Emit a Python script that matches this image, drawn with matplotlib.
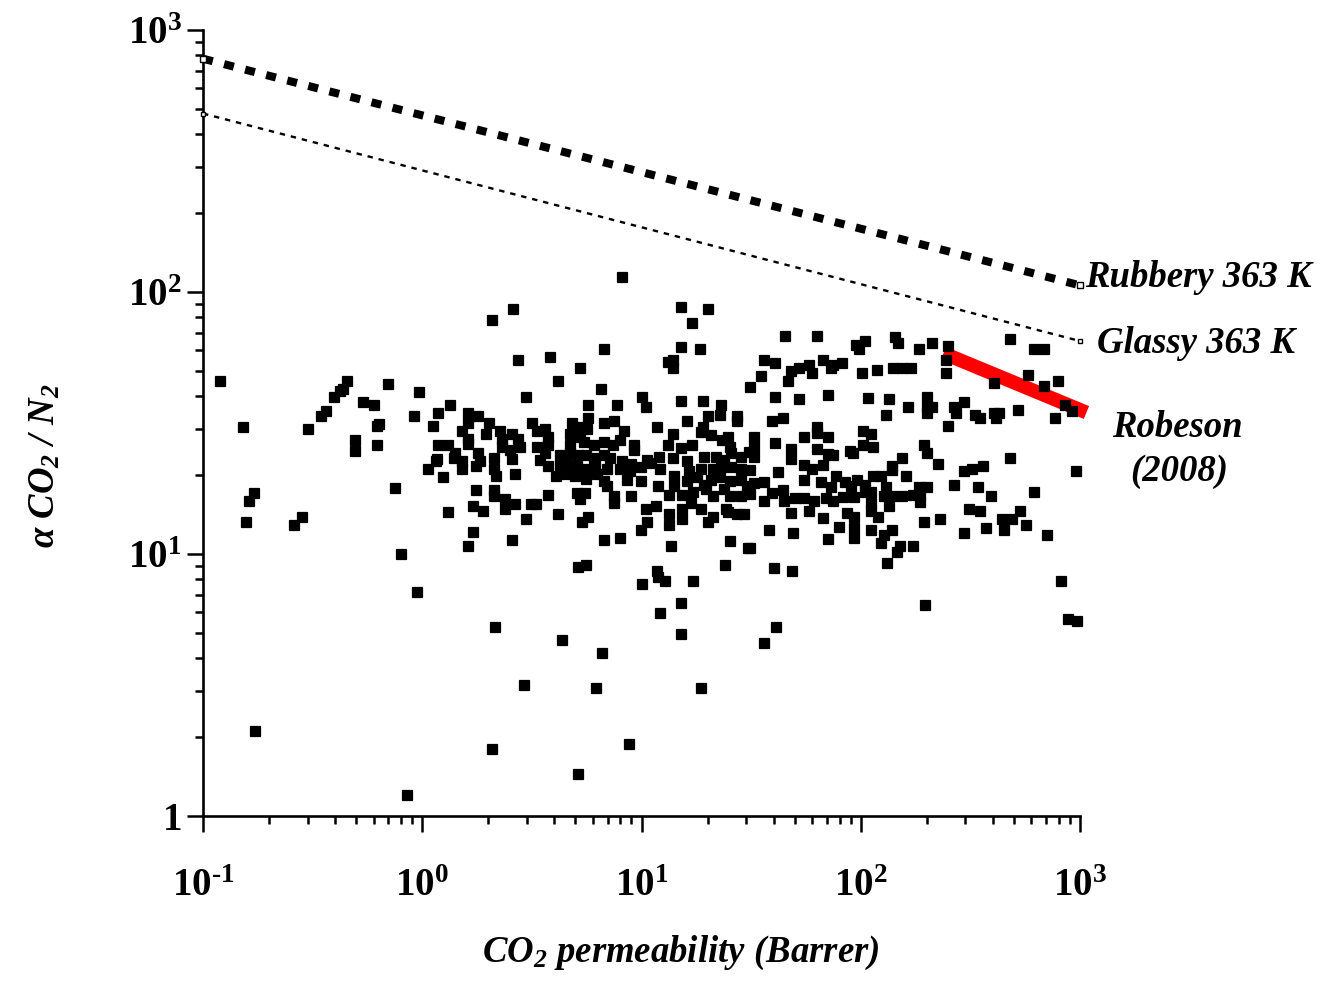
import matplotlib
matplotlib.use("Agg")
import matplotlib.pyplot as plt
from matplotlib.ticker import FixedLocator, LogLocator, NullFormatter, FixedFormatter

plt.rcParams['font.family'] = ['Liberation Serif', 'DejaVu Serif']
plt.rcParams['mathtext.fontset'] = 'custom'
plt.rcParams['mathtext.rm'] = 'Liberation Serif:bold:italic'
plt.rcParams['mathtext.it'] = 'Liberation Serif:bold:italic'
plt.rcParams['mathtext.bf'] = 'Liberation Serif:bold'

# ---------------- data (CO2 permeability [Barrer], CO2/N2 selectivity) -------------
perm_low = [0.119, 0.153, 0.30, 0.345, 0.364, 0.396, 0.422, 0.434, 0.456, 0.539,
            0.604, 0.698, 0.496, 0.496, 0.621, 0.638, 0.621, 0.97, 0.92, 1.185,
            1.12, 1.34, 1.185, 1.31, 1.17, 1.15, 1.06, 1.25, 0.755, 1.31,
            0.171, 0.162, 0.157, 0.283, 0.26, 0.80]
sel_low = [45.7, 30.6, 29.9, 33.7, 35.2, 39.7, 42.0, 42.8, 45.7, 37.9,
           37.0, 44.6, 27.3, 24.8, 30.8, 31.4, 26.0, 41.6, 33.7, 34.5,
           30.7, 37.0, 26.0, 26.0, 23.1, 22.6, 21.1, 19.7, 17.9, 14.5,
           17.1, 16.0, 13.2, 13.9, 12.9, 10.0]

perm_bottom = [5.11, 5.56, 0.95, 11.8, 11.9, 12.8, 10.0, 17.1, 24.0, 40.4,
               48.4, 132, 821, 15.2, 12.1, 196, 882, 970, 2.14, 15.2,
               40.9, 4.33, 36.3, 6.58, 2.92, 6.2, 18.6, 0.172, 2.09, 8.76,
               5.11, 0.853]
sel_bottom = [8.9, 9.06, 7.18, 8.63, 8.2, 7.87, 7.68, 7.87, 9.06, 8.84,
              8.63, 9.21, 7.87, 6.51, 5.93, 6.36, 5.67, 5.54, 5.28, 4.93,
              5.28, 4.70, 4.59, 4.18, 3.16, 3.08, 3.08, 2.11, 1.80, 1.88,
              1.45, 1.2]

perm_top = [8.19, 2.59, 2.07, 15.2, 20.1, 17.0, 6.73, 2.74, 3.84, 5.22,
            4.18, 6.52, 2.98, 10.0, 15.2, 18.5, 13.2, 13.9, 13.9, 15.2,
            19.0, 45.3, 63.4, 36.1, 40.5, 47.9, 46.5, 52.1, 58.3, 59.9,
            67.0, 72.9, 74.9, 81.7, 35.1, 31.4, 40.5, 52.1, 70.8]
sel_top = [114, 85.9, 78.2, 87.8, 85.9, 76.4, 60.5, 55.0, 56.3, 51.3,
           45.6, 42.5, 39.8, 39.8, 61.8, 60.5, 54.0, 55.0, 51.3, 38.2,
           38.2, 68.0, 68.0, 55.0, 53.7, 50.0, 45.6, 51.3, 52.5, 48.9,
           55.0, 51.3, 52.5, 53.7, 47.8, 43.4, 39.8, 39.1, 40.6]

perm_mid_right = [95.1, 98.6, 39.3, 44.0, 63.4, 63.4, 55.1, 70.8, 40.5, 47.9,
                  47.9, 63.4, 70.8, 74.9, 88.9, 92.6, 32.5, 32.5, 32.5, 55.1,
                  59.9, 67.0, 77.1, 41.9, 55.1, 65.6, 72.9, 85.2, 96.5, 90.1,
                  32.5, 36.1, 44.0, 39.3, 44.6, 36.1, 50.3, 55.1, 61.1, 69.3,
                  74.4, 82.8, 93.2, 47.9, 58.3, 67.0, 87.0, 93.3, 38.3, 49.2,
                  70.8, 79.4, 93.3, 93.3, 31.4]
sel_mid_right = [62.6, 60.7, 32.3, 33.1, 30.6, 28.9, 28.0, 28.0, 26.6, 25.1,
                 23.1, 25.1, 24.0, 23.9, 24.7, 24.2, 28.0, 25.6, 23.5, 21.8,
                 21.1, 21.9, 19.8, 20.6, 19.2, 18.8, 18.0, 18.9, 19.2, 18.2,
                 18.6, 18.8, 17.6, 17.1, 15.9, 15.9, 16.3, 16.3, 15.9, 16.3,
                 15.9, 16.5, 16.5, 14.3, 14.6, 13.7, 14.3, 13.8, 12.3, 12.0,
                 11.4, 12.7, 12.6, 11.5, 10.5]

perm_mid = [10.5, 23.0, 22.7, 27.3, 27.3, 20.1, 16.1, 19.0, 18.6, 20.7,
            11.8, 13.9, 23.3, 24.8, 13.2, 15.2, 17.0, 25.4, 10.6, 12.0,
            13.9, 16.1, 19.3, 21.9, 23.8, 25.6, 28.3, 30.8, 9.9, 11.0,
            12.2, 14.0, 16.5, 18.6, 21.1, 23.0, 25.6, 28.3, 31.4, 9.9,
            11.9, 14.0, 16.2, 18.0, 19.3, 20.7, 22.7, 25.2, 28.3, 30.4,
            13.3, 15.3, 17.2, 19.7, 21.3, 23.8, 25.2, 28.3, 31.4, 10.5,
            11.6, 13.3, 15.3, 16.8, 18.6, 24.3, 27.3, 29.3, 10.6, 13.3,
            15.3, 20.0, 21.3, 24.7, 13.6, 25.2, 30.6, 9.9]
sel_mid = [36.3, 36.9, 33.9, 33.6, 32.1, 33.6, 32.1, 30.6, 29.2, 28.5,
           30.6, 28.7, 27.2, 27.9, 26.1, 25.3, 26.0, 25.5, 22.8, 23.5,
           23.2, 22.7, 23.5, 23.5, 22.8, 24.2, 23.5, 24.5, 21.5, 22.3,
           21.1, 19.8, 20.7, 21.1, 21.1, 21.5, 21.5, 21.1, 20.9, 19.0,
           18.1, 18.1, 19.0, 19.7, 18.3, 19.2, 19.7, 19.0, 19.2, 18.1,
           16.8, 16.8, 17.3, 17.7, 16.7, 17.7, 16.6, 16.6, 16.9, 14.9,
           15.2, 14.2, 14.9, 15.6, 14.9, 14.9, 14.2, 14.2, 13.3, 12.9,
           13.6, 13.3, 13.9, 14.5, 10.7, 11.2, 10.5, 12.3]

perm_core = [1.61, 1.80, 2.02, 1.61, 1.52, 1.61, 1.61, 1.96, 2.27, 2.56,
             2.32, 2.74, 2.32, 2.52, 2.80, 2.58, 1.41, 1.39, 1.52, 1.52,
             1.80, 1.84, 1.75, 2.12, 2.13, 2.18, 2.66, 3.17, 3.35, 3.64,
             3.74, 3.74, 3.35, 3.46, 3.76, 3.62, 5.68, 7.74, 5.68, 6.73,
             7.52, 4.80, 5.22, 5.64, 4.70, 5.26, 8.30, 8.02, 4.73, 5.45,
             6.05, 6.78, 7.43, 9.22, 9.22, 4.27, 4.73, 5.11, 5.56, 6.05,
             6.73, 7.22, 8.19, 4.27, 4.58, 5.08, 5.56, 6.16, 6.97, 8.02,
             8.91, 4.06, 4.55, 4.97, 5.56, 6.27, 6.78, 6.97, 8.82, 8.59,
             1.75, 2.13, 2.13, 2.39, 2.39, 2.66, 3.14, 3.30, 3.74, 1.71,
             1.90, 2.98, 4.18, 5.08, 5.50, 5.22, 7.52, 7.52, 9.0, 5.68,
             5.37, 1.71, 1.61, 2.58, 6.73, 7.96]
sel_core = [34.6, 33.7, 31.6, 31.6, 29.4, 27.4, 26.4, 28.7, 29.4, 28.7,
            27.4, 27.4, 25.5, 24.9, 25.5, 23.1, 24.2, 23.2, 22.7, 21.1,
            24.2, 22.7, 21.6, 23.2, 21.1, 19.8, 20.2, 31.6, 29.4, 30.1,
            28.0, 26.1, 25.5, 22.8, 21.6, 24.2, 37.1, 37.1, 33.1, 31.6,
            32.1, 31.6, 30.6, 30.1, 28.7, 28.0, 29.4, 27.2, 26.1, 26.7,
            26.1, 26.7, 26.1, 26.1, 24.9, 23.8, 24.2, 23.8, 23.8, 23.2,
            23.8, 23.2, 22.7, 21.8, 22.1, 21.6, 21.1, 21.6, 21.1, 21.1,
            22.1, 19.8, 20.2, 19.8, 19.3, 20.2, 19.0, 18.1, 20.7, 19.2,
            17.6, 17.6, 16.6, 16.2, 14.9, 15.5, 15.5, 15.5, 16.8, 15.3,
            14.6, 13.6, 14.2, 17.1, 17.1, 16.2, 16.6, 15.6, 16.6, 13.9,
            13.3, 12.1, 10.7, 11.3, 11.3, 11.5]

perm_high = [105, 143, 148, 184, 212, 249, 244, 244, 478, 615,
             687, 118, 140, 154, 169, 101, 404, 581, 687, 791,
             854, 916, 768, 108, 135, 131, 164, 200, 200, 212,
             200, 265, 272, 296, 331, 350, 404, 415, 427, 519,
             251, 102, 111, 102, 114, 195, 200, 224, 155, 139,
             139, 478, 361, 322, 296, 962, 114, 124, 160, 105,
             131, 265, 341, 105, 111, 184, 200, 174, 186, 186,
             127, 139, 155, 135, 111, 111, 120, 392, 615, 313,
             350, 534, 195, 230, 111, 139, 127, 124, 151, 147,
             174, 296, 371, 439, 491, 452, 565, 707]
sel_high = [65.2, 67.2, 63.7, 60.5, 63.7, 62.0, 55.0, 48.9, 66.3, 60.7,
            60.7, 50.4, 51.3, 51.3, 51.3, 49.1, 44.8, 48.1, 43.7, 45.8,
            37.1, 35.1, 33.1, 39.4, 39.1, 33.9, 36.3, 39.8, 36.3, 36.3,
            34.4, 36.3, 34.4, 38.0, 33.9, 32.9, 34.4, 32.9, 34.4, 35.4,
            30.8, 29.4, 28.7, 26.1, 25.6, 26.1, 24.3, 22.1, 23.2, 21.6,
            21.0, 23.2, 21.6, 21.1, 20.7, 20.7, 19.8, 19.8, 19.8, 18.4,
            18.0, 18.4, 18.0, 17.2, 17.2, 18.0, 18.0, 16.8, 16.8, 15.8,
            16.6, 16.6, 16.6, 15.3, 15.6, 14.6, 13.9, 16.6, 17.2, 14.9,
            14.6, 14.6, 13.3, 13.6, 12.3, 12.3, 11.8, 11.0, 10.7, 10.2,
            10.7, 12.0, 12.6, 13.6, 13.6, 12.3, 12.9, 11.8]

# Upper-bound lines
rubbery_x = [0.1, 1000]
rubbery_y = [777, 106]
glassy_x = [0.1, 1000]
glassy_y = [480, 65]
robeson_x = [255, 1000]
robeson_y = [57, 35.5]

xticks = [0.1, 1, 10, 100, 1000]
xtick_labels = [r'$\mathbf{10^{\u2010 1}}$', r'$\mathbf{10^{0}}$', r'$\mathbf{10^{1}}$',
                r'$\mathbf{10^{2}}$', r'$\mathbf{10^{3}}$']
xtick_labels[0] = r'$\mathbf{10^{' + '\u2010' + r'1}}$'
yticks = [1, 10, 100, 1000]
ytick_labels = [r'$\mathbf{1}$', r'$\mathbf{10^{1}}$', r'$\mathbf{10^{2}}$', r'$\mathbf{10^{3}}$']

# ---------------- figure ----------------
W, H = 1321, 983
fig = plt.figure(figsize=(W / 100, H / 100), dpi=100)
ax = fig.add_axes([203 / W, 1 - 816 / H, (1080 - 203) / W, (816 - 30) / H])
ax.set_xscale('log')
ax.set_yscale('log')
ax.set_xlim(0.1, 1000)
ax.set_ylim(1, 1000)

ax.plot(robeson_x, robeson_y, color='#ff0000', lw=10, solid_capstyle='projecting',
        zorder=2, clip_on=False)
ax.plot(rubbery_x, rubbery_y, color='black', lw=5.8, dashes=(1.25, 1.45),
        dash_capstyle='butt', zorder=3, clip_on=False)
ax.plot(glassy_x, glassy_y, color='black', lw=1.7, dashes=(2.3, 2.5),
        dash_capstyle='butt', zorder=3, clip_on=False)
for lx, ly, ms in [(rubbery_x, rubbery_y, 5), (glassy_x, glassy_y, 3)]:
    ax.plot([lx[0], lx[-1]], [ly[0], ly[-1]], ls='none', marker='s', ms=ms,
            mfc='white', mec='black', mew=1.0, zorder=4, clip_on=False)

for px, py in [(perm_low, sel_low), (perm_bottom, sel_bottom), (perm_top, sel_top),
               (perm_mid_right, sel_mid_right), (perm_mid, sel_mid),
               (perm_core, sel_core), (perm_high, sel_high)]:
    ax.plot(px, py, ls='none', marker='s', ms=6.9, mfc='black', mec='black',
            mew=0.9, zorder=5, clip_on=False)

# spines & ticks
for s in ['top', 'right']:
    ax.spines[s].set_visible(False)
for s in ['left', 'bottom']:
    ax.spines[s].set_linewidth(1.9)

ax.xaxis.set_major_locator(FixedLocator(xticks))
ax.xaxis.set_major_formatter(FixedFormatter(xtick_labels))
ax.yaxis.set_major_locator(FixedLocator(yticks))
ax.yaxis.set_major_formatter(FixedFormatter(ytick_labels))
ax.xaxis.set_minor_locator(LogLocator(base=10, subs=range(2, 10), numticks=20))
ax.yaxis.set_minor_locator(LogLocator(base=10, subs=range(2, 10), numticks=20))
ax.xaxis.set_minor_formatter(NullFormatter())
ax.yaxis.set_minor_formatter(NullFormatter())
ax.tick_params(which='major', direction='out', length=11.5, width=1.8, labelsize=28)
ax.tick_params(which='minor', direction='out', length=5.5, width=1.8)
ax.tick_params(axis='x', which='major', pad=26)
ax.tick_params(axis='y', which='major', pad=4)

# axis labels
lab = dict(fontsize=26.5, fontweight='bold', fontstyle='italic')
fig.text(681 / W, 1 - 962 / H, r'CO$_2$ permeability (Barrer)',
         ha='center', va='baseline', **lab)
fig.text(45 / W, 1 - 466 / H, r'α CO$_2$ / N$_2$',
         ha='center', va='center', rotation=90, **lab)

# line annotations
fig.text(1085 / W, 1 - 287 / H, 'Rubbery 363 K', ha='left', va='baseline', **lab)
fig.text(1097 / W, 1 - 353 / H, 'Glassy 363 K', ha='left', va='baseline', **lab)
fig.text(1177 / W, 1 - 437 / H, 'Robeson', ha='center', va='baseline', **lab)
fig.text(1179 / W, 1 - 481 / H, '(2008)', ha='center', va='baseline', **lab)

fig.savefig('out.png', dpi=100)
